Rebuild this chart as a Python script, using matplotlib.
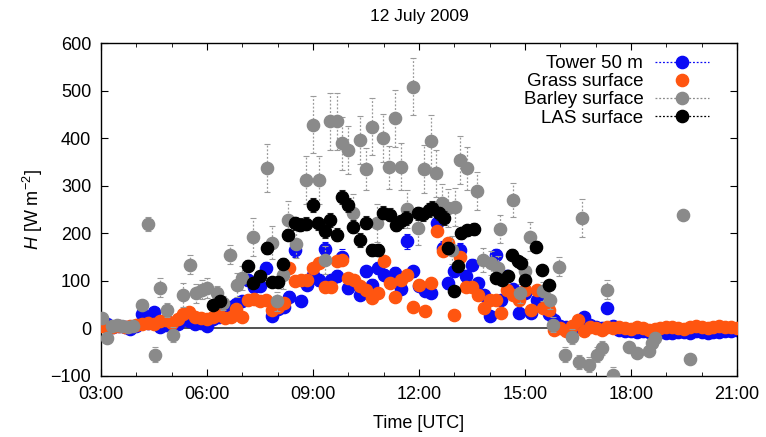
import numpy as np
import matplotlib
matplotlib.use("Agg")
import matplotlib.pyplot as plt
from matplotlib.lines import Line2D

plt.rcParams['font.family'] = ['Liberation Sans', 'DejaVu Sans']
plt.rcParams['mathtext.fontset'] = 'custom'
plt.rcParams['mathtext.rm'] = 'Liberation Sans'
plt.rcParams['mathtext.it'] = 'Liberation Sans:italic'

title = "12 July 2009"
xlabel = "Time [UTC]"
ylabel = r"$H$ [W m$^{-2}$]"
xtick_pos = [3, 6, 9, 12, 15, 18, 21]
xtick_labels = ["03:00", "06:00", "09:00", "12:00", "15:00", "18:00", "21:00"]
ytick_vals = [-100, 0, 100, 200, 300, 400, 500, 600]

# 10-minute series, 03:00 .. 21:00
tower_time = np.arange(109) / 6.0 + 3.0
tower_vals = [18, 10, 3, 5, 2, -2, 5, 30, 12, 35, 3, 8, 12, 10, 22, 15, 10, 12,
              5, 20, 25, 30, 45, 52, 57, 102, 88, 90, 127, 26, 40, 45, 67, 165, 57, 92,
              112, 102, 167, 102, 110, 151, 85, 95, 71, 120, 92, 127, 113, 102, 117, 83, 183, 120,
              90, 78, 74, 221, 169, 95, 120, 165, 110, 134, 95, 70, 26, 155, 60, 110, 83, 32,
              74, 32, 60, 45, 30, 18, 5, 3, -2, 2, 25, 8, 2, 0, 43, 5,
              -3, -5, -6, -8, -5, -7, -8, -6, -9, -10, -8, -7, -9, -6, -8, -10, -7, -8, -6, -5, -3]
tower_err = [3, 3, 3, 3, 3, 3, 5, 8, 5, 8, 5, 5, 5, 5, 6, 6, 5, 5,
             5, 6, 6, 8, 8, 10, 10, 12, 12, 12, 12, 8, 10, 10, 12, 15, 10, 12,
             12, 12, 15, 12, 12, 15, 12, 12, 10, 12, 12, 12, 12, 12, 12, 10, 15, 12,
             12, 10, 10, 15, 15, 12, 12, 15, 12, 12, 12, 10, 8, 12, 10, 12, 10, 8,
             10, 8, 8, 8, 6, 5, 4, 3, 3, 3, 5, 3, 3, 3, 5, 3,
             2, 2, 2, 2, 2, 2, 2, 2, 2, 2, 2, 2, 2, 2, 2, 2, 2, 2, 2, 2, 2]

grass_time = np.arange(109) / 6.0 + 3.0
grass_vals = [5, 3, 2, 5, 3, 5, 8, 10, 12, 10, 15, 18, 12, 20, 30, 35, 25, 22,
              20, 25, 28, 22, 25, 41, 25, 60, 62, 58, 60, 39, 45, 53, 127, 100, 102, 102,
              127, 137, 88, 88, 141, 144, 106, 102, 90, 81, 64, 74, 141, 95, 67, 102, 113, 46,
              92, 36, 95, 204, 162, 179, 29, 151, 88, 88, 70, 43, 60, 60, 32, 81, 71, 60,
              81, 39, 81, 43, 39, -3, 0, -5, 5, 18, -5, 2, 0, -3, 2, 0,
              2, 0, -2, 3, 0, -3, -2, 0, 2, 3, 0, -2, 3, 5, 2, 0, 4, 6, 3, 2, 0]

barley_time = [3.02, 3.16, 3.30, 3.45, 3.60, 3.75, 3.90, 4.15, 4.32, 4.53, 4.67, 4.86,
               5.03, 5.33, 5.52, 5.70, 5.85, 6.00, 6.27, 6.46, 6.65, 6.84, 6.98, 7.31,
               7.69, 7.83, 7.97, 8.16, 8.30, 8.52, 8.80, 9.01, 9.17, 9.34, 9.48, 9.67,
               9.81, 10.00, 10.14, 10.33, 10.50, 10.66, 10.80, 10.99, 11.16, 11.32, 11.49, 11.65,
               11.82, 11.98, 12.15, 12.33, 12.49, 12.64, 12.83, 12.92, 13.02, 13.17, 13.36, 13.65,
               13.82, 14.05, 14.24, 14.29, 14.66, 14.86, 15.00, 15.14, 15.52, 15.71, 15.80, 15.97,
               16.13, 16.32, 16.52, 16.60, 16.82, 17.03, 17.17, 17.31, 17.50, 17.93, 18.16, 18.50,
               18.60, 18.68, 19.48, 19.66]
barley_vals = [22, -20, 5, 8, 5, 3, 5, 50, 219, -55, 86, 39,
               -13, 71, 134, 74, 81, 85, 74, 53, 155, 92, 106, 193,
               337, 180, 57, 113, 228, 177, 312, 428, 312, 144, 435, 435,
               389, 375, 242, 396, 335, 424, 222, 400, 339, 442, 340, 251,
               508, 211, 335, 393, 326, 263, 253, 165, 256, 354, 337, 288,
               144, 137, 127, 209, 270, 74, 120, 193, 78, 60, 8, 130,
               -55, -17, -70, 232, -76, -55, -41, 81, -97, -38, -52, -48,
               -31, -20, 239, -65]
barley_err = [10, 10, 5, 5, 5, 5, 5, 10, 15, 15, 20, 15,
              15, 25, 20, 20, 20, 20, 15, 15, 20, 25, 25, 40,
              50, 35, 20, 30, 40, 30, 50, 60, 50, 30, 60, 60,
              55, 50, 40, 50, 45, 60, 40, 50, 45, 60, 50, 40,
              60, 35, 50, 55, 50, 40, 40, 30, 40, 50, 45, 40,
              25, 25, 25, 30, 35, 20, 25, 30, 20, 20, 15, 20,
              15, 15, 15, 40, 15, 15, 15, 20, 15, 10, 10, 10,
              10, 10, 8, 10]

las_time = [6.18, 6.37, 7.17, 7.31, 7.50, 7.69, 7.83, 8.02, 8.16, 8.30, 8.49, 8.63,
            8.80, 9.01, 9.15, 9.34, 9.48, 9.67, 9.81, 10.00, 10.14, 10.33, 10.50, 10.66,
            10.85, 10.97, 11.18, 11.34, 11.50, 11.64, 11.98, 12.12, 12.27, 12.36, 12.56, 12.70,
            12.83, 12.98, 13.10, 13.20, 13.36, 13.55, 14.17, 14.36, 14.52, 14.62, 14.80, 14.90,
            15.00, 15.30, 15.49, 15.68]
las_vals = [50, 57, 132, 95, 111, 169, 97, 97, 136, 197, 221, 218,
            220, 260, 221, 204, 228, 197, 277, 260, 214, 186, 222, 165,
            165, 243, 239, 218, 225, 232, 242, 240, 249, 253, 242, 232,
            169, 78, 131, 200, 206, 209, 106, 102, 110, 155, 141, 137,
            102, 172, 123, 92]
las_err = [8, 8, 12, 10, 10, 12, 10, 10, 12, 12, 14, 14,
           14, 15, 14, 14, 14, 14, 15, 15, 14, 14, 14, 12,
           12, 14, 14, 14, 14, 14, 14, 14, 14, 14, 14, 14,
           12, 10, 12, 12, 12, 12, 10, 10, 10, 12, 12, 12,
           10, 12, 10, 10]

c_tower = '#0a0af5'
c_grass = '#ff5510'
c_barley = '#8a8a8a'
c_las = '#000000'

fig = plt.figure(figsize=(7.66, 4.37), dpi=100)
ax = fig.add_axes([0.1319, 0.1396, 0.8302, 0.762])

ax.axhline(0, color='#333333', lw=1.2, zorder=1)

ms = 8.8

def eb(x, y, e, color, ecolor, z):
    cont = ax.errorbar(x, y, yerr=e, fmt='o', ms=ms, color=color, mec=color,
                       ecolor=ecolor, elinewidth=0.9, capsize=2.0, capthick=0.8, zorder=z)
    for bl in cont[2]:
        bl.set_linestyle((0, (1.5, 1.5)))
    return cont

eb(tower_time, tower_vals, tower_err, c_tower, c_tower, 2)
ax.plot(grass_time, grass_vals, 'o', ms=ms, color=c_grass, mec=c_grass, zorder=3)
eb(barley_time, barley_vals, barley_err, c_barley, '#9a9a9a', 4)
eb(las_time, las_vals, las_err, c_las, '#222222', 5)

ax.set_xlim(3, 21)
ax.set_ylim(-100, 600)
ax.set_xticks(xtick_pos)
ax.set_xticklabels(xtick_labels)
ax.set_xticks(np.arange(3, 22, 1), minor=True)
ax.set_yticks(ytick_vals)
ax.tick_params(which='both', direction='in', top=True, right=True, labelsize=13, pad=7)
ax.tick_params(which='major', length=5)
ax.tick_params(which='minor', length=3)
for s in ax.spines.values():
    s.set_linewidth(1.0)

ax.set_title(title, fontsize=12.5, pad=16)
ax.set_xlabel(xlabel, fontsize=13, labelpad=9)
ax.set_ylabel(ylabel, fontsize=13, labelpad=4)

handles = [
    Line2D([], [], color=c_tower, ls=(0, (1.5, 1.5)), lw=0.9, marker='o', ms=ms, mec=c_tower),
    Line2D([], [], color=c_grass, ls='none', marker='o', ms=ms, mec=c_grass),
    Line2D([], [], color=c_barley, ls=(0, (1.5, 1.5)), lw=0.9, marker='o', ms=ms, mec=c_barley),
    Line2D([], [], color=c_las, ls=(0, (1.5, 1.5)), lw=0.9, marker='o', ms=ms, mec=c_las),
]
labels = ["Tower 50 m", "Grass surface", "Barley surface", "LAS surface"]
ax.legend(handles, labels, loc='upper right', bbox_to_anchor=(0.975, 1.0),
          markerfirst=False, frameon=False, fontsize=13.5, handlelength=2.9,
          labelspacing=0.05, handletextpad=0.6, borderaxespad=0.25)

fig.savefig("out.png", dpi=100)
